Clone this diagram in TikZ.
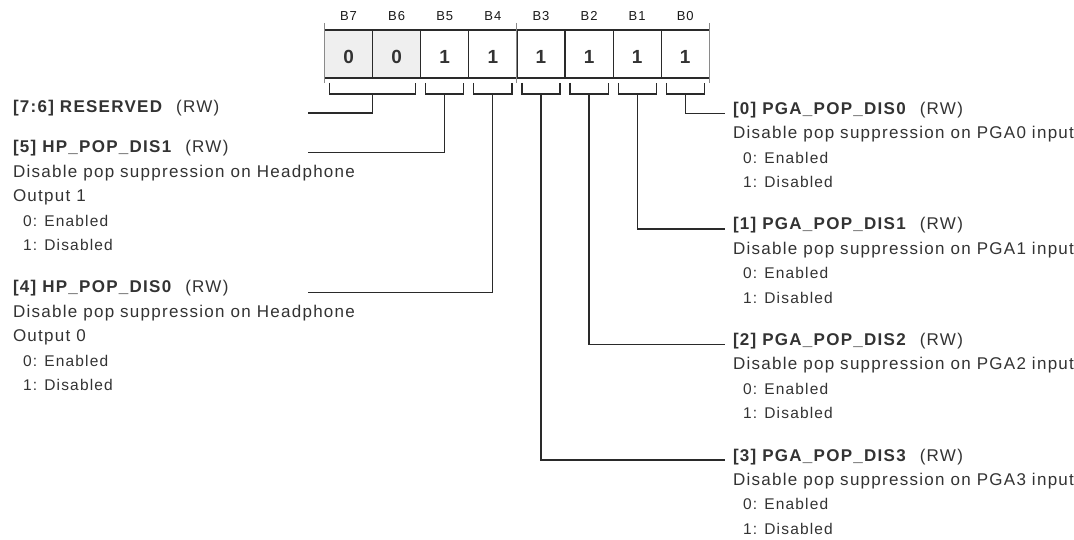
\documentclass[tikz,border=0pt]{standalone}
\usepackage{fontspec}
\setmainfont{Liberation Sans}[LetterSpace=7.5]
\usepackage{tikz}
\usetikzlibrary{positioning,calc}
\definecolor{regink}{HTML}{333333}
\definecolor{regwire}{HTML}{2A2A2A}
\definecolor{regfill}{HTML}{EFEFEF}
\definecolor{regtick}{HTML}{8A8A8A}
\newcommand{\regopt}[1]{\hspace*{10pt}{\fontsize{15.5}{24.5}\selectfont #1}}

\begin{document}
\begin{tikzpicture}[
  x=1pt,y=-1pt,
  every node/.style={text=regink,inner sep=0pt,outer sep=0pt},
  cell/.style={draw=regwire,line width=1.2pt,minimum width=48.1pt,minimum height=48pt,font=\fontsize{19}{19}\selectfont\bfseries,text height=20pt,text depth=0pt},
  rsvcell/.style={cell,fill=regfill},
  bitname/.style={text=black!90,font=\fontsize{13}{13}\selectfont},
  title/.style={anchor=base west,font=\fontsize{17}{20}\selectfont\bfseries},
  desc/.style={align=left,font=\fontsize{17}{24.5}\selectfont},
  link/.style={draw=regwire,line width=1.2pt},
  tick/.style={draw=regtick,line width=1pt}
]
\path[use as bounding box,fill=white] (0,0) rectangle (1074,540);

% register cells
\node[rsvcell] (b7) at (348.55,54) {0};
\node[rsvcell,right=0pt of b7] (b6) {0};
\node[cell,right=0pt of b6] (b5) {1};
\node[cell,right=0pt of b5] (b4) {1};
\node[cell,right=0pt of b4] (b3) {1};
\node[cell,right=0pt of b3] (b2) {1};
\node[cell,right=0pt of b2] (b1) {1};
\node[cell,right=0pt of b1] (b0) {1};

\node[bitname,above=9pt of b7] (n7) {B7};
\node[bitname,above=9pt of b6] (n6) {B6};
\node[bitname,above=9pt of b5] (n5) {B5};
\node[bitname,above=9pt of b4] (n4) {B4};
\node[bitname,above=9pt of b3] (n3) {B3};
\node[bitname,above=9pt of b2] (n2) {B2};
\node[bitname,above=9pt of b1] (n1) {B1};
\node[bitname,above=9pt of b0] (n0) {B0};

\draw[tick] ([yshift=7pt]b7.north west) -- ([yshift=-5pt]b7.south west);
\draw[tick] ([yshift=7pt]b4.north east) -- ([yshift=-5pt]b4.south east);
\draw[tick] ([yshift=7pt]b0.north east) -- ([yshift=-5pt]b0.south east);

% field brackets
\draw[link] ([xshift=5pt,yshift=-5pt]b7.south west) -- ++(0,11) -| ([xshift=-5pt,yshift=-5pt]b6.south east);
\draw[link] ([xshift=5pt,yshift=-5pt]b5.south west) -- ++(0,11) -| ([xshift=-5pt,yshift=-5pt]b5.south east);
\draw[link] ([xshift=5pt,yshift=-5pt]b4.south west) -- ++(0,11) -| ([xshift=-5pt,yshift=-5pt]b4.south east);
\draw[link] ([xshift=5pt,yshift=-5pt]b3.south west) -- ++(0,11) -| ([xshift=-5pt,yshift=-5pt]b3.south east);
\draw[link] ([xshift=5pt,yshift=-5pt]b2.south west) -- ++(0,11) -| ([xshift=-5pt,yshift=-5pt]b2.south east);
\draw[link] ([xshift=5pt,yshift=-5pt]b1.south west) -- ++(0,11) -| ([xshift=-5pt,yshift=-5pt]b1.south east);
\draw[link] ([xshift=5pt,yshift=-5pt]b0.south west) -- ++(0,11) -| ([xshift=-5pt,yshift=-5pt]b0.south east);

\coordinate (s76) at ($(b7.south east)+(0,16)$);
\coordinate (s5) at ($(b5.south)+(0,16)$);
\coordinate (s4) at ($(b4.south)+(0,16)$);
\coordinate (s3) at ($(b3.south)+(0,16)$);
\coordinate (s2) at ($(b2.south)+(0,16)$);
\coordinate (s1) at ($(b1.south)+(0,16)$);
\coordinate (s0) at ($(b0.south)+(0,16)$);

% left fields
\node[title] (rsv) at (13,113) {[7:6] RESERVED\hspace{14pt}\mdseries(RW)};
\node[title] (hp1) at (13,153) {[5] HP\_POP\_DIS1\hspace{14pt}\mdseries(RW)};
\node[desc,below right=11.8pt and 0pt of hp1.base west] (hp1d) {Disable pop suppression on Headphone\\Output 1\\\regopt{0: Enabled}\\\regopt{1: Disabled}};
\node[title] (hp0) at (13,293) {[4] HP\_POP\_DIS0\hspace{14pt}\mdseries(RW)};
\node[desc,below right=11.8pt and 0pt of hp0.base west] (hp0d) {Disable pop suppression on Headphone\\Output 0\\\regopt{0: Enabled}\\\regopt{1: Disabled}};

\coordinate (e76) at (308,113);
\coordinate (e5) at (308,152.7);
\coordinate (e4) at (308,292.5);

% right fields
\node[title] (pga0) at (733,114.5) {[0] PGA\_POP\_DIS0\hspace{14pt}\mdseries(RW)};
\node[desc,below right=11.8pt and 0pt of pga0.base west] (pga0d) {Disable pop suppression on PGA0 input\\\regopt{0: Enabled}\\\regopt{1: Disabled}};
\node[title] (pga1) at (733,230) {[1] PGA\_POP\_DIS1\hspace{14pt}\mdseries(RW)};
\node[desc,below right=11.8pt and 0pt of pga1.base west] (pga1d) {Disable pop suppression on PGA1 input\\\regopt{0: Enabled}\\\regopt{1: Disabled}};
\node[title] (pga2) at (733,345.5) {[2] PGA\_POP\_DIS2\hspace{14pt}\mdseries(RW)};
\node[desc,below right=11.8pt and 0pt of pga2.base west] (pga2d) {Disable pop suppression on PGA2 input\\\regopt{0: Enabled}\\\regopt{1: Disabled}};
\node[title] (pga3) at (733,461) {[3] PGA\_POP\_DIS3\hspace{14pt}\mdseries(RW)};
\node[desc,below right=11.8pt and 0pt of pga3.base west] (pga3d) {Disable pop suppression on PGA3 input\\\regopt{0: Enabled}\\\regopt{1: Disabled}};

% connectors
\draw[link] (s76) |- (e76);
\draw[link] (s5) |- (e5);
\draw[link] (s4) |- (e4);
\draw[link] (s0) |- ([xshift=-8pt,yshift=1pt]pga0.base west);
\draw[link] (s1) |- ([xshift=-8pt,yshift=1pt]pga1.base west);
\draw[link] (s2) |- ([xshift=-8pt,yshift=1pt]pga2.base west);
\draw[link] (s3) |- ([xshift=-8pt,yshift=1pt]pga3.base west);
\end{tikzpicture}
\end{document}
